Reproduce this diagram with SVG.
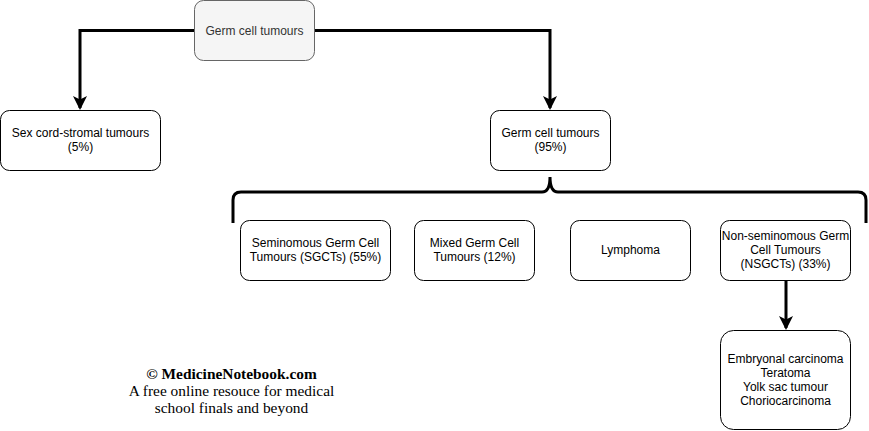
<svg xmlns="http://www.w3.org/2000/svg" width="869" height="431" viewBox="0 0 869 431">
<defs>
<style>
.box{fill:#ffffff;stroke:#000000;stroke-width:1}
.top{fill:#f5f5f5;stroke:#666666;stroke-width:1}
.t{font-family:"Liberation Sans",Arial,Helvetica,sans-serif;font-size:12px;fill:#000000;text-anchor:middle}
.tt{fill:#333333}
.edge{fill:none;stroke:#000000;stroke-width:3}
.wm{font-family:"Liberation Serif","Times New Roman",serif;font-size:15.4px;fill:#000000;text-anchor:middle}
</style>
<marker id="arr" viewBox="0 0 14 14" refX="12" refY="7" markerWidth="14" markerHeight="14" markerUnits="userSpaceOnUse" orient="auto">
<path d="M0,0 L14,7 L0,14 L3.5,7 Z" fill="#000000"/>
</marker>
</defs>
<rect width="869" height="431" fill="#ffffff"/>
<g id="connectors">
<path class="edge" d="M194.5,30.5 H80 V108" marker-end="url(#arr)"/>
<path class="edge" d="M314.5,30.5 H550 V108" marker-end="url(#arr)"/>
<path class="edge" d="M233,223 V200 Q233,192 241,192 H542 Q550,192 550,177 Q550,192 558,192 H858 Q866,192 866,200 V223"/>
<path class="edge" d="M786,280 V328" marker-end="url(#arr)"/>
</g>
<g id="root">
<rect class="top" x="194.5" y="0.5" width="120" height="60" rx="9"/>
<text class="t tt" x="254.5" y="34.5">Germ cell tumours</text>
</g>
<g id="sexcord">
<rect class="box" x="0.5" y="110.5" width="160" height="60" rx="9"/>
<text class="t" x="80.5" y="137">Sex cord-stromal tumours</text>
<text class="t" x="80.5" y="151">(5%)</text>
</g>
<g id="germcell">
<rect class="box" x="490.5" y="110.5" width="120" height="60" rx="9"/>
<text class="t" x="550.5" y="137">Germ cell tumours</text>
<text class="t" x="550.5" y="151">(95%)</text>
</g>
<g id="sgct">
<rect class="box" x="240.5" y="220.5" width="150" height="60" rx="9"/>
<text class="t" x="315.5" y="247">Seminomous Germ Cell</text>
<text class="t" x="315.5" y="261">Tumours (SGCTs) (55%)</text>
</g>
<g id="mixed">
<rect class="box" x="414.5" y="220.5" width="120" height="60" rx="9"/>
<text class="t" x="474.5" y="247">Mixed Germ Cell</text>
<text class="t" x="474.5" y="261">Tumours (12%)</text>
</g>
<g id="lymphoma">
<rect class="box" x="570.5" y="220.5" width="120" height="60" rx="9"/>
<text class="t" x="630.5" y="254">Lymphoma</text>
</g>
<g id="nsgct">
<rect class="box" x="720.5" y="220.5" width="130" height="60" rx="9"/>
<text class="t" x="785.5" y="240">Non-seminomous Germ</text>
<text class="t" x="785.5" y="254">Cell Tumours</text>
<text class="t" x="785.5" y="268">(NSGCTs) (33%)</text>
</g>
<g id="subtypes">
<rect class="box" x="720.5" y="330.5" width="130" height="99" rx="13"/>
<text class="t" x="785.5" y="363">Embryonal carcinoma</text>
<text class="t" x="785.5" y="377">Teratoma</text>
<text class="t" x="785.5" y="391">Yolk sac tumour</text>
<text class="t" x="785.5" y="405">Choriocarcinoma</text>
</g>
<g id="watermark">
<text class="wm" x="231.5" y="379" font-weight="bold">© MedicineNotebook.com</text>
<text class="wm" x="231.5" y="396">A free online resouce for medical</text>
<text class="wm" x="231.5" y="413">school finals and beyond</text>
</g>
</svg>
